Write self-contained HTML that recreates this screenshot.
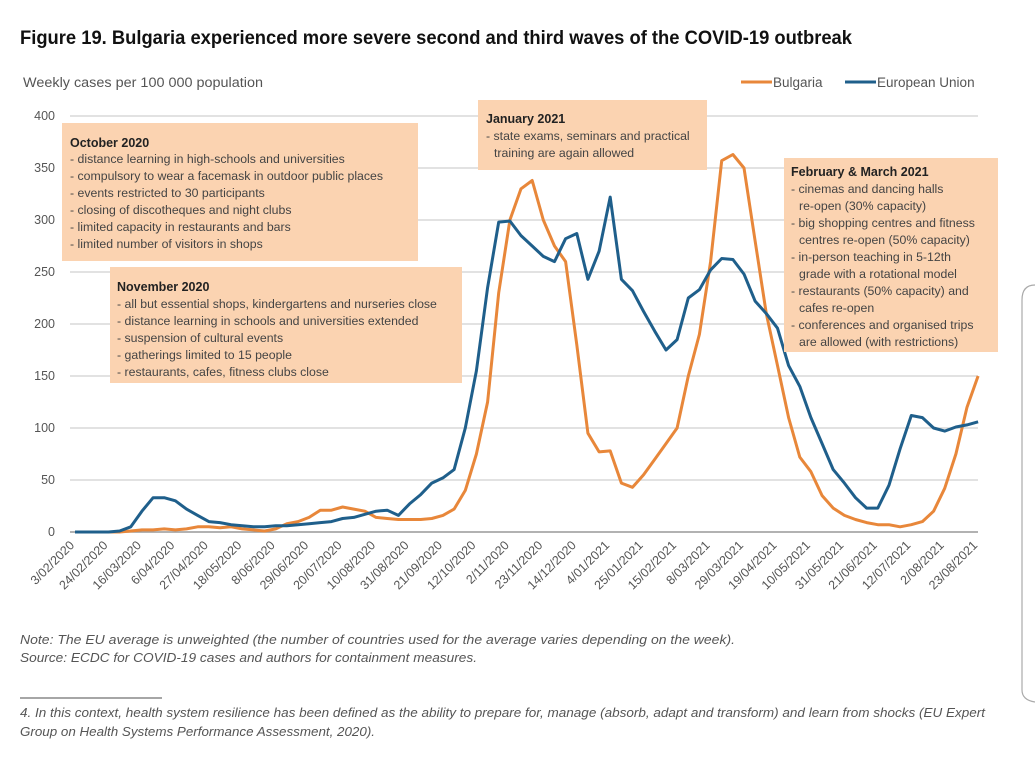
<!DOCTYPE html>
<html><head><meta charset="utf-8">
<style>
html,body{margin:0;padding:0;background:#fff;}
svg{display:block;font-family:"Liberation Sans",sans-serif;}
.bx{font-size:12.3px;fill:#444;}
.bh{font-size:12.5px;font-weight:bold;fill:#222;}
.tk{font-size:12.5px;fill:#555;}
</style></head>
<body>
<svg id="chart" width="1035" height="776" viewBox="0 0 1035 776">
  <rect x="0" y="0" width="1035" height="776" fill="#fff"/>
  <text x="20" y="44" font-size="19.5" font-weight="bold" fill="#111" textLength="832" lengthAdjust="spacingAndGlyphs">Figure 19. Bulgaria experienced more severe second and third waves of the COVID-19 outbreak</text>
  <text x="23" y="87" font-size="13.5" fill="#555" textLength="240" lengthAdjust="spacingAndGlyphs">Weekly cases per 100 000 population</text>
  <g id="grid"></g>
  <g id="yticks"></g>
  <g id="xticks"></g>

  <g>
    <g>
      <line x1="741" y1="82" x2="772" y2="82" stroke="#e8873a" stroke-width="3"/>
      <text x="773" y="87" font-size="13.5" fill="#555">Bulgaria</text>
    </g>
    <g>
      <line x1="845" y1="82" x2="876" y2="82" stroke="#1f5f8b" stroke-width="3"/>
      <text x="877" y="87" font-size="13.5" fill="#555">European Union</text>
    </g>
  </g>

  <g id="series"></g>

  <g>
    <rect x="62" y="123" width="356" height="138" fill="#fbd3b1"/>
    <text class="bh" x="70" y="147">October 2020</text>
    <text class="bx" x="70" y="163">- distance learning in high-schools and universities</text>
    <text class="bx" x="70" y="180">- compulsory to wear a facemask in outdoor public places</text>
    <text class="bx" x="70" y="197">- events restricted to 30 participants</text>
    <text class="bx" x="70" y="214">- closing of discotheques and night clubs</text>
    <text class="bx" x="70" y="231">- limited capacity in restaurants and bars</text>
    <text class="bx" x="70" y="248">- limited number of visitors in shops</text>
  </g>
  <g>
    <rect x="110" y="267" width="352" height="116" fill="#fbd3b1"/>
    <text class="bh" x="117" y="291">November 2020</text>
    <text class="bx" x="117" y="308">- all but essential shops, kindergartens and nurseries close</text>
    <text class="bx" x="117" y="325">- distance learning in schools and universities extended</text>
    <text class="bx" x="117" y="342">- suspension of cultural events</text>
    <text class="bx" x="117" y="359">- gatherings limited to 15 people</text>
    <text class="bx" x="117" y="376">- restaurants, cafes, fitness clubs close</text>
  </g>
  <g>
    <rect x="478" y="100" width="229" height="70" fill="#fbd3b1"/>
    <text class="bh" x="486" y="123">January 2021</text>
    <text class="bx" x="486" y="140">- state exams, seminars and practical</text>
    <text class="bx" x="486" y="157">  <tspan x="494">training are again allowed</tspan></text>
  </g>
  <g>
    <rect x="784" y="158" width="214" height="194" fill="#fbd3b1"/>
    <text class="bh" x="791" y="176">February &amp; March 2021</text>
    <text class="bx" x="791" y="193">- cinemas and dancing halls</text>
    <text class="bx" x="799" y="210">re-open (30% capacity)</text>
    <text class="bx" x="791" y="227">- big shopping centres and fitness</text>
    <text class="bx" x="799" y="244">centres re-open (50% capacity)</text>
    <text class="bx" x="791" y="261">- in-person teaching in 5-12th</text>
    <text class="bx" x="799" y="278">grade with a rotational model</text>
    <text class="bx" x="791" y="295">- restaurants (50% capacity) and</text>
    <text class="bx" x="799" y="312">cafes re-open</text>
    <text class="bx" x="791" y="329">- conferences and organised trips</text>
    <text class="bx" x="799" y="346">are allowed (with restrictions)</text>
  </g>

  <text x="20" y="644" font-size="13" font-style="italic" fill="#555" textLength="715" lengthAdjust="spacingAndGlyphs">Note: The EU average is unweighted (the number of countries used for the average varies depending on the week).</text>
  <text x="20" y="662" font-size="13" font-style="italic" fill="#555" textLength="457" lengthAdjust="spacingAndGlyphs">Source: ECDC for COVID-19 cases and authors for containment measures.</text>
  <line x1="20" y1="698" x2="162" y2="698" stroke="#888" stroke-width="1.5"/>
  <text x="20" y="717" font-size="13" font-style="italic" fill="#555" textLength="965" lengthAdjust="spacingAndGlyphs">4. In this context, health system resilience has been defined as the ability to prepare for, manage (absorb, adapt and transform) and learn from shocks (EU Expert</text>
  <text x="20" y="736" font-size="13" font-style="italic" fill="#555" textLength="355" lengthAdjust="spacingAndGlyphs">Group on Health Systems Performance Assessment, 2020).</text>
  <path d="M1035 285 Q1022 285 1022 300 L1022 690 Q1022 700 1035 702" fill="none" stroke="#aaa" stroke-width="1.2"/>
</svg>
<script>
const yTicks = [0, 50, 100, 150, 200, 250, 300, 350, 400];
const xTickLabels = ["3/02/2020","24/02/2020","16/03/2020","6/04/2020","27/04/2020","18/05/2020","8/06/2020","29/06/2020","20/07/2020","10/08/2020","31/08/2020","21/09/2020","12/10/2020","2/11/2020","23/11/2020","14/12/2020","4/01/2021","25/01/2021","15/02/2021","8/03/2021","29/03/2021","19/04/2021","10/05/2021","31/05/2021","21/06/2021","12/07/2021","2/08/2021","23/08/2021"];
const bulgaria = [0,0,0,0,0,1,2,2,3,2,3,5,5,4,5,3,2,1,3,8,10,14,21,21,24,22,20,14,13,12,12,12,13,16,22,40,75,125,230,300,330,338,300,275,260,180,95,77,78,47,43,55,70,85,100,150,190,260,357,363,350,280,210,160,110,72,58,35,23,16,12,9,7,7,5,7,10,20,42,75,120,150];
const eu = [0,0,0,0,1,5,20,33,33,30,22,16,10,9,7,6,5,5,6,6,7,8,9,10,13,14,17,20,21,16,27,36,47,52,60,100,155,235,298,299,285,275,265,260,282,287,243,270,322,243,232,212,193,175,185,225,233,252,263,262,248,222,210,196,160,140,110,85,60,47,33,23,23,45,80,112,110,100,97,101,103,106];

const NS = "http://www.w3.org/2000/svg";
const x0 = 75, dx = 11.15, y0 = 532, ky = 1.04;
function xs(i){ return x0 + i*dx; }
function ys(v){ return y0 - v*ky; }
function mk(tag, attrs, parent){ const e=document.createElementNS(NS,tag); for(const k in attrs) e.setAttribute(k, attrs[k]); parent.appendChild(e); return e; }

const grid = document.getElementById('grid');
const yt = document.getElementById('yticks');
yTicks.forEach(v=>{
  const l = mk('line',{x1:70,x2:978,y1:ys(v),y2:ys(v),stroke: v===0?'#999':'#d0d0d0','stroke-width':v===0?1.5:1.3},grid);
  
  
  const t = mk('text',{x:55,y:ys(v)+4,'text-anchor':'end','class':'tk'},yt);
  
  
  t.textContent = v;
});
const xt = document.getElementById('xticks');
xTickLabels.forEach((lab,k)=>{
  const x = xs(k*3), y = 546;
  const t = mk('text',{x:x,y:y,'text-anchor':'end','class':'tk',transform:`rotate(-45 ${x} ${y})`},xt);
  
  
  t.textContent = lab;
});
const ser = document.getElementById('series');
function line(data,color,name){
  const d = data.map((v,i)=>(i?'L':'M')+xs(i).toFixed(1)+' '+ys(v).toFixed(1)).join(' ');
  const p = mk('path',{d:d,fill:'none',stroke:color,'stroke-width':3,'stroke-linejoin':'round'},ser);
  
  
}
line(bulgaria,'#e8873a','bulgaria-line');
line(eu,'#1f5f8b','eu-line');
</script>
</body></html>
